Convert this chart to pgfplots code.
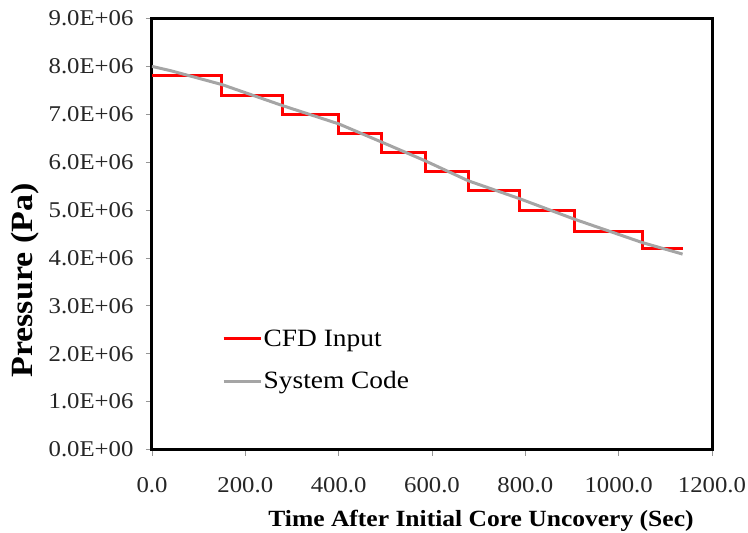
\documentclass[border=0pt]{standalone}
\usepackage{pgfplots}
\pgfplotsset{compat=1.18}
\usepackage{fontspec}
\setmainfont{Liberation Serif}[FakeStretch=1.1]
\definecolor{syscode}{RGB}{165,165,165}
\definecolor{tickgray}{RGB}{150,150,150}
\begin{document}
\begin{tikzpicture}
\begin{axis}[
  scale only axis,
  width=560bp, height=431bp,
  xmin=0, xmax=1200, ymin=0, ymax=9000000,
  xtick={0,200,400,600,800,1000,1200},
  xticklabels={0.0,200.0,400.0,600.0,800.0,1000.0,1200.0},
  ytick={0,1000000,2000000,3000000,4000000,5000000,6000000,7000000,8000000,9000000},
  yticklabels={0.0E+00,1.0E+06,2.0E+06,3.0E+06,4.0E+06,5.0E+06,6.0E+06,7.0E+06,8.0E+06,9.0E+06},
  scaled y ticks=false,
  tick align=outside,
  xtick pos=bottom, ytick pos=left,
  major tick length=6bp,
  tick style={tickgray, line width=0.8bp},
  axis line style={black, line width=3bp},
  ticklabel style={font=\fontsize{22.6}{26}\selectfont, text=black!85},
  xticklabel style={yshift=-19bp},
  yticklabel style={xshift=-9bp},
  xlabel={\textbf{Time After Initial Core Uncovery (Sec)}},
  ylabel={\textbf{Pressure (Pa)}},
  xlabel style={font=\fontsize{23.3}{27}\selectfont, at={(rel axis cs:0.5875,-0.165)}, anchor=center},
  ylabel style={font=\fontsize{31}{36}\selectfont, at={(rel axis cs:-0.227,0.392)}, anchor=center, rotate=0},
  legend cell align=left,
  legend style={draw=none, fill=none, at={(rel axis cs:0.125,0.282)}, anchor=north west,
    font=\fontsize{25}{30}\selectfont, row sep=21bp, inner sep=0pt,
    nodes={inner sep=1.5bp}},
  legend image code/.code={\draw[#1] (0bp,0bp) -- (37bp,0bp);},
]
\addplot[red, line width=3bp, const plot mark left] coordinates {
  (0,7800000) (150,7400000) (280,7000000) (400,6600000) (492,6200000)
  (585,5800000) (678,5400000) (787,5000000) (905,4550000) (1051,4200000)
  (1137,4200000)
};
\addlegendentry{CFD Input}
\addplot[syscode, line width=3bp] coordinates {
  (0,8000000) (40,7910000) (150,7620000) (280,7180000) (400,6800000)
  (492,6420000) (585,6030000) (678,5610000) (787,5240000) (905,4810000)
  (1051,4320000) (1137,4080000)
};
\addlegendentry{System Code}
\end{axis}
\pgfresetboundingbox
\path (current axis.south west) ++(-152bp,-83.5bp) rectangle ++(748bp,533bp);
\end{tikzpicture}
\end{document}
